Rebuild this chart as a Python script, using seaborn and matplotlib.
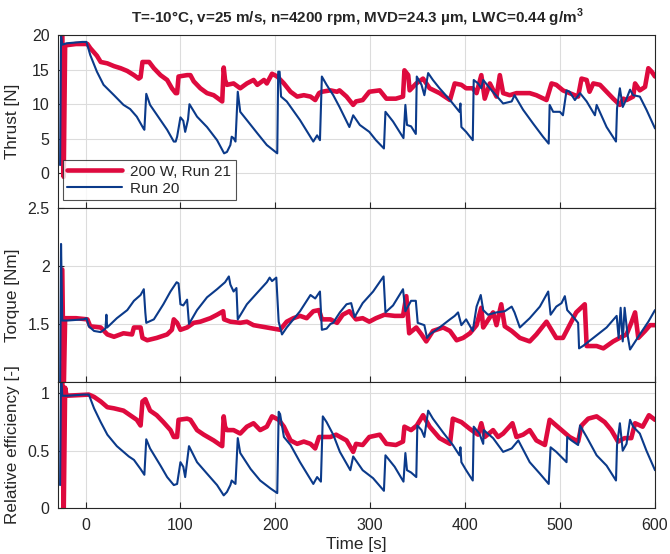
import numpy as np
import pandas as pd
import matplotlib
matplotlib.use("Agg")
import matplotlib.pyplot as plt
import seaborn as sns

# ---------------- data ----------------
title = "T=-10°C, v=25 m/s, n=4200 rpm, MVD=24.3 µm, LWC=0.44 g/m$^{\\mathbf{3}}$"
label_red = "200 W, Run 21"
label_blue = "Run 20"
xticks = [0, 100, 200, 300, 400, 500, 600]

red_thrust_t = [-24.5, -23, -21.5, -10, 2, 5, 12, 16, 23, 30, 37, 44, 51, 56, 58, 60, 67, 72, 79, 86, 91, 95, 96.5, 98,
                107, 110.5, 114, 121, 128, 135, 142, 144, 145.6, 147, 149, 156, 163, 170, 177, 181, 188, 191, 196.5,
                202, 209, 216, 223, 230, 237, 242, 246, 249, 258, 265, 267.6, 275, 282, 285, 292, 299, 310, 317, 327,
                334.5, 336, 340, 341.5, 348.5, 355.6, 362.6, 373, 384, 389, 396, 401, 408, 412, 417, 420.6, 426, 433,
                436.5, 440, 447, 454, 461, 468, 475, 485.7, 491, 496, 503, 510, 519, 522.6, 528, 531, 535, 542, 549,
                556, 563, 566.6, 570, 577, 579, 584, 589.5, 593, 596.5, 600]
red_thrust_v = [21, -0.5, 18.5, 18.7, 18.7, 18.1, 17.0, 16.1, 15.9, 15.5, 15.2, 14.8, 14.2, 13.7, 13.9, 16.1, 16.1, 15.2,
                14.2, 13.5, 12.3, 11.6, 11.6, 14.0, 14.2, 14.2, 13.3, 12.3, 11.6, 11.3, 10.6, 10.4, 15.3, 13.5, 12.8,
                13.0, 12.3, 13.0, 13.5, 12.8, 13.5, 13.0, 14.4, 14.0, 13.0, 11.8, 11.1, 11.3, 11.1, 10.6, 11.6, 11.8,
                12.0, 11.8, 12.0, 11.1, 9.9, 10.4, 10.6, 11.8, 12.0, 10.8, 10.8, 11.1, 14.9, 14.2, 12.0, 13.0, 13.7,
                12.3, 11.6, 10.6, 13.0, 12.8, 12.3, 12.3, 11.6, 14.2, 10.8, 13.0, 11.1, 14.2, 11.6, 11.3, 11.6, 11.6,
                11.6, 11.3, 10.6, 13.0, 12.8, 12.0, 11.6, 11.1, 13.7, 13.5, 11.8, 13.0, 12.8, 11.8, 10.8, 9.9, 10.8,
                10.6, 11.1, 13.0, 12.0, 12.5, 15.2, 14.7, 14.0]

blue_thrust_t = [-26.8, -25.8, -24.5, -20, -3.5, 1, 5, 12, 19, 30, 40, 47, 54, 61, 62, 64, 68, 79, 86, 93, 95, 96.5, 100,
                 103, 105, 108, 109.5, 117.5, 128, 138.6, 146, 149, 152.6, 154, 156, 158, 160.4, 163, 170, 181, 191,
                 202, 203, 204.5, 206, 212, 226, 240, 244, 247, 249, 254, 261, 267.6, 278, 282, 289, 299, 306, 314.4,
                 316, 324, 335, 337, 338.7, 343, 348, 349, 354, 357, 361, 366, 373, 384, 394, 395, 396, 401, 408, 409,
                 413.6, 417, 419, 426, 440, 449, 452, 461, 471.6, 482, 488, 489, 492.7, 499.8, 503, 506.8, 510, 515.6,
                 521, 528, 536.7, 538.5, 549, 558.9, 560, 563, 566, 570, 573.7, 577, 584, 591, 600]
blue_thrust_v = [1.2, 20.0, 18.6, 18.8, 19.0, 19.0, 17.1, 14.7, 12.8, 11.3, 9.9, 9.3, 8.2, 6.5, 6.3, 11.5, 9.9, 7.7, 6.3,
                 4.6, 4.6, 5.3, 8.1, 7.6, 6.0, 7.8, 10.0, 8.2, 6.7, 4.8, 2.9, 3.1, 4.1, 5.3, 5.1, 4.6, 11.8, 8.9, 7.7,
                 5.8, 4.1, 2.9, 14.7, 14.7, 11.1, 10.4, 7.7, 4.6, 5.5, 4.8, 14.0, 12.8, 11.3, 9.6, 6.7, 8.4, 7.0, 6.0,
                 4.8, 3.6, 8.9, 7.5, 5.1, 9.9, 7.0, 6.8, 5.7, 14.0, 12.8, 11.3, 14.5, 13.5, 12.3, 10.6, 8.9, 10.1, 6.7,
                 6.0, 4.8, 13.5, 13.0, 12.3, 13.5, 12.3, 10.1, 10.4, 11.3, 9.2, 7.2, 5.3, 4.3, 9.9, 8.9, 8.9, 8.4, 12.0,
                 11.8, 10.6, 11.6, 10.4, 8.4, 9.9, 6.7, 4.6, 9.4, 12.3, 9.6, 10.8, 12.1, 11.3, 11.1, 9.2, 6.5]

red_torque_t = [-24.5, -23, -21.5, -10, 2, 5, 16, 23, 30, 40, 49, 51, 58, 60, 65, 75, 86, 91, 93, 96.5, 100, 107, 114,
                121, 131.5, 138.6, 145, 146, 152.6, 163, 170, 177, 191, 205, 212, 219, 226, 233, 240, 246, 249, 258,
                265, 271, 278, 285, 292, 299, 306, 315, 325.7, 334.5, 338, 341, 348.5, 354, 359, 366, 376.7, 384, 391,
                397.8, 405, 412, 417, 419, 429.4, 433, 438, 441.7, 449, 457.6, 468, 475, 485.7, 496, 503, 510, 517,
                526, 528, 538.5, 545.6, 556, 565, 570, 575, 579, 582.4, 589.5, 594.8, 600]
red_torque_v = [1.97, 0.9, 1.55, 1.55, 1.54, 1.48, 1.47, 1.41, 1.39, 1.42, 1.41, 1.47, 1.47, 1.38, 1.36, 1.38, 1.41,
                1.45, 1.54, 1.51, 1.45, 1.47, 1.51, 1.52, 1.55, 1.58, 1.61, 1.54, 1.52, 1.51, 1.52, 1.49, 1.47, 1.45,
                1.52, 1.55, 1.57, 1.55, 1.61, 1.62, 1.54, 1.54, 1.51, 1.58, 1.61, 1.54, 1.55, 1.52, 1.55, 1.58, 1.57,
                1.57, 1.74, 1.42, 1.47, 1.41, 1.35, 1.44, 1.47, 1.44, 1.36, 1.38, 1.42, 1.49, 1.64, 1.47, 1.60, 1.49,
                1.67, 1.48, 1.44, 1.38, 1.35, 1.41, 1.52, 1.38, 1.38, 1.49, 1.60, 1.67, 1.31, 1.31, 1.29, 1.35, 1.39,
                1.41, 1.51, 1.60, 1.38, 1.44, 1.49, 1.49]

blue_torque_t = [-26.8, -25.8, -24.5, -19, -2, 1, 3.5, 9, 16, 21, 22, 22.8, 33, 44, 51, 58, 61.4, 63, 64, 72, 82, 89.5,
                 96, 98, 100, 103, 107, 109, 117.5, 128, 138.6, 147, 151, 152.6, 156, 159, 160.4, 170, 181, 191, 194,
                 196.5, 201, 203.5, 207, 212, 219, 226, 237, 242, 247, 249, 254, 258, 261, 264, 268, 275, 279.9, 283.5,
                 292, 303, 314, 316, 324, 334.5, 337, 343, 348, 350, 357, 359.8, 362.6, 373, 384, 389, 392.5, 396, 401,
                 408, 412, 416.4, 419, 424, 433, 441.7, 449, 452, 457.6, 468, 478.7, 487.5, 490, 496, 501.5, 505, 507.5,
                 512, 519, 520, 524, 535, 549, 559.6, 561.7, 563.8, 566, 568, 571, 573.7, 584, 593, 600]
blue_torque_v = [0.9, 2.19, 1.53, 1.53, 1.54, 1.55, 1.48, 1.44, 1.43, 1.46, 1.58, 1.47, 1.55, 1.62, 1.70, 1.75, 1.80,
                 1.60, 1.51, 1.54, 1.67, 1.78, 1.86, 1.85, 1.67, 1.66, 1.71, 1.50, 1.62, 1.73, 1.80, 1.86, 1.91, 1.84,
                 1.78, 1.81, 1.54, 1.67, 1.77, 1.86, 1.90, 1.87, 1.90, 1.52, 1.41, 1.47, 1.54, 1.61, 1.75, 1.72, 1.78,
                 1.45, 1.46, 1.50, 1.51, 1.55, 1.60, 1.67, 1.68, 1.56, 1.68, 1.78, 1.91, 1.60, 1.66, 1.80, 1.61, 1.70,
                 1.70, 1.51, 1.49, 1.38, 1.41, 1.47, 1.54, 1.57, 1.60, 1.49, 1.54, 1.44, 1.65, 1.75, 1.62, 1.58, 1.60,
                 1.61, 1.65, 1.60, 1.47, 1.55, 1.65, 1.78, 1.58, 1.65, 1.68, 1.74, 1.62, 1.58, 1.51, 1.29, 1.31, 1.38,
                 1.47, 1.57, 1.38, 1.64, 1.35, 1.64, 1.41, 1.28, 1.41, 1.52, 1.62]

red_eff_t = [-24.5, -23, -21.5, -20, 3.5, 9, 16, 23, 30, 40, 47, 54, 58, 60, 63, 68, 75, 82, 89.5, 93, 96.5, 98, 107,
             110.5, 117.5, 124.6, 135, 142, 144, 145.6, 147, 149, 156, 163, 170, 177, 184, 191, 196.5, 203.5, 209, 216,
             223, 230, 237, 242, 246, 258, 264, 275, 282, 285, 292, 299, 310, 317, 327, 334.5, 336, 343, 349, 355.6,
             362.6, 373, 384, 387, 396, 405, 413.6, 417, 420.6, 429.4, 434.7, 440, 449.8, 454, 461, 468, 475, 484,
             489, 496, 503, 510, 519, 522.6, 529.6, 538.5, 547, 554, 561, 568, 575, 579, 587, 593.6, 600]
red_eff_v = [1.2, -0.05, 1.05, 0.98, 0.99, 0.97, 0.93, 0.88, 0.87, 0.85, 0.81, 0.77, 0.72, 0.93, 0.95, 0.85, 0.81, 0.75,
             0.68, 0.62, 0.62, 0.77, 0.78, 0.77, 0.68, 0.64, 0.59, 0.55, 0.54, 0.80, 0.71, 0.68, 0.68, 0.65, 0.71,
             0.74, 0.68, 0.71, 0.80, 0.77, 0.71, 0.59, 0.56, 0.58, 0.56, 0.52, 0.62, 0.62, 0.64, 0.59, 0.49, 0.56,
             0.55, 0.62, 0.64, 0.56, 0.55, 0.58, 0.71, 0.68, 0.72, 0.81, 0.71, 0.61, 0.56, 0.78, 0.75, 0.69, 0.64,
             0.74, 0.62, 0.68, 0.62, 0.65, 0.74, 0.62, 0.64, 0.68, 0.59, 0.55, 0.77, 0.72, 0.67, 0.62, 0.58, 0.72,
             0.78, 0.80, 0.75, 0.68, 0.58, 0.61, 0.61, 0.74, 0.71, 0.81, 0.77]

blue_eff_t = [-26.8, -25.8, -24.5, -19, -2, 3.5, 9, 16, 23, 33, 40, 45.6, 51, 58, 62, 64, 68, 79, 86, 93, 96.5, 100,
              103, 105, 109, 117.5, 128, 138.6, 145.6, 149, 152.6, 154, 158, 160.4, 163, 174, 184, 195, 202, 203.5,
              205, 209, 216, 226, 240, 244, 248, 250, 254, 261, 268, 279, 282, 292, 303, 314.4, 316, 325.7, 335, 337,
              338.7, 343, 348.5, 349.6, 354, 357, 361, 366, 376.7, 387, 394, 395, 396, 401, 408, 409, 415, 419, 419.6,
              429.4, 440, 449, 456, 468, 478.7, 488, 490, 496, 506.8, 507.5, 512, 519, 521, 528, 538.5, 549, 558.9,
              560, 563, 566, 570, 573.7, 577, 584, 591, 600]
blue_eff_v = [0.2, 1.2, 0.98, 0.98, 0.99, 0.99, 0.87, 0.75, 0.64, 0.54, 0.49, 0.45, 0.42, 0.34, 0.29, 0.60, 0.52, 0.37,
              0.27, 0.20, 0.21, 0.40, 0.36, 0.27, 0.54, 0.40, 0.30, 0.20, 0.11, 0.14, 0.20, 0.24, 0.21, 0.61, 0.48,
              0.34, 0.24, 0.17, 0.13, 0.84, 0.82, 0.62, 0.55, 0.40, 0.21, 0.27, 0.23, 0.80, 0.75, 0.64, 0.49, 0.33,
              0.45, 0.33, 0.26, 0.15, 0.46, 0.36, 0.23, 0.48, 0.33, 0.31, 0.27, 0.72, 0.68, 0.62, 0.85, 0.78, 0.66,
              0.55, 0.46, 0.53, 0.40, 0.33, 0.24, 0.71, 0.65, 0.56, 0.68, 0.61, 0.49, 0.52, 0.59, 0.40, 0.30, 0.21,
              0.53, 0.49, 0.40, 0.62, 0.59, 0.55, 0.72, 0.62, 0.46, 0.37, 0.24, 0.55, 0.74, 0.50, 0.56, 0.77, 0.71,
              0.65, 0.50, 0.33]

# ---------------- style ----------------
sns.set_theme(style="white")
plt.rcParams["font.family"] = ["Liberation Sans", "DejaVu Sans"]
plt.rcParams["mathtext.fontset"] = "custom"
plt.rcParams["mathtext.rm"] = "Liberation Sans"
plt.rcParams["mathtext.bf"] = "Liberation Sans:bold"

RED = "#DE0A3E"
BLUE = "#0B3A8A"
TXT = "#262626"
GRID = "#DCDCDC"

fig = plt.figure(figsize=(6.70, 5.54), dpi=100)
L, W = 58 / 670, 597 / 670
ax1 = fig.add_axes([L, 1 - 208 / 554, W, 173 / 554])
ax2 = fig.add_axes([L, 1 - 382 / 554, W, 174 / 554])
ax3 = fig.add_axes([L, 1 - 508 / 554, W, 126 / 554])

panels = [
    (ax1, red_thrust_t, red_thrust_v, blue_thrust_t, blue_thrust_v, (-5, 20), [0, 5, 10, 15, 20], ["0", "5", "10", "15", "20"], "Thrust [N]"),
    (ax2, red_torque_t, red_torque_v, blue_torque_t, blue_torque_v, (1, 2.5), [1.5, 2, 2.5], ["1.5", "2", "2.5"], "Torque [Nm]"),
    (ax3, red_eff_t, red_eff_v, blue_eff_t, blue_eff_v, (0, 1.1), [0, 0.5, 1], ["0", "0.5", "1"], "Relative efficiency [-]"),
]

for i, (ax, rt, rv, bt, bv, ylim, yt, ytl, ylab) in enumerate(panels):
    dr = pd.DataFrame({"t": rt, "v": rv})
    db = pd.DataFrame({"t": bt, "v": bv})
    sns.lineplot(data=dr, x="t", y="v", ax=ax, color=RED, linewidth=3.3, sort=False, estimator=None,
                 label=label_red if i == 0 else None, legend=False)
    sns.lineplot(data=db, x="t", y="v", ax=ax, color=BLUE, linewidth=1.5, sort=False, estimator=None,
                 label=label_blue if i == 0 else None, legend=False)
    ax.set_xlim(-29, 600)
    ax.set_ylim(*ylim)
    ax.set_yticks(yt)
    ax.set_yticklabels(ytl)
    ax.set_xticks(xticks)
    ax.grid(True, color=GRID, linewidth=0.8)
    ax.set_axisbelow(True)
    for s in ax.spines.values():
        s.set_color(TXT)
        s.set_linewidth(0.8)
        s.set_visible(True)
    ax.tick_params(direction="in", length=4, width=0.8, color=TXT, labelcolor=TXT, labelsize=11.5,
                   left=True, bottom=True, top=False, right=False)
    ax.tick_params(axis="y", pad=6)
    ax.tick_params(axis="x", pad=7)
    ax.set_ylabel(ylab, fontsize=12.3, color=TXT)
    ax.yaxis.set_label_coords(-0.064, 0.5)
    if i < 2:
        ax.set_xticklabels([])
        ax.set_xlabel("")
    else:
        ax.set_xticklabels([str(x) for x in xticks])
        ax.set_xlabel("Time [s]", fontsize=12.3, color=TXT, labelpad=3)

leg = ax1.legend(loc="lower left", bbox_to_anchor=(0.008, 0.045), fontsize=11, frameon=True, fancybox=False,
                 handlelength=3.6, borderpad=0.3, labelspacing=0.2, handletextpad=0.5, borderaxespad=0)
leg.get_frame().set_edgecolor(TXT)
leg.get_frame().set_linewidth(0.8)
for t in leg.get_texts():
    t.set_color(TXT)

fig.text(0.533, 0.967, title, ha="center", va="center", fontsize=11, fontweight="bold", color=TXT)

fig.savefig("out.png", dpi=100)
